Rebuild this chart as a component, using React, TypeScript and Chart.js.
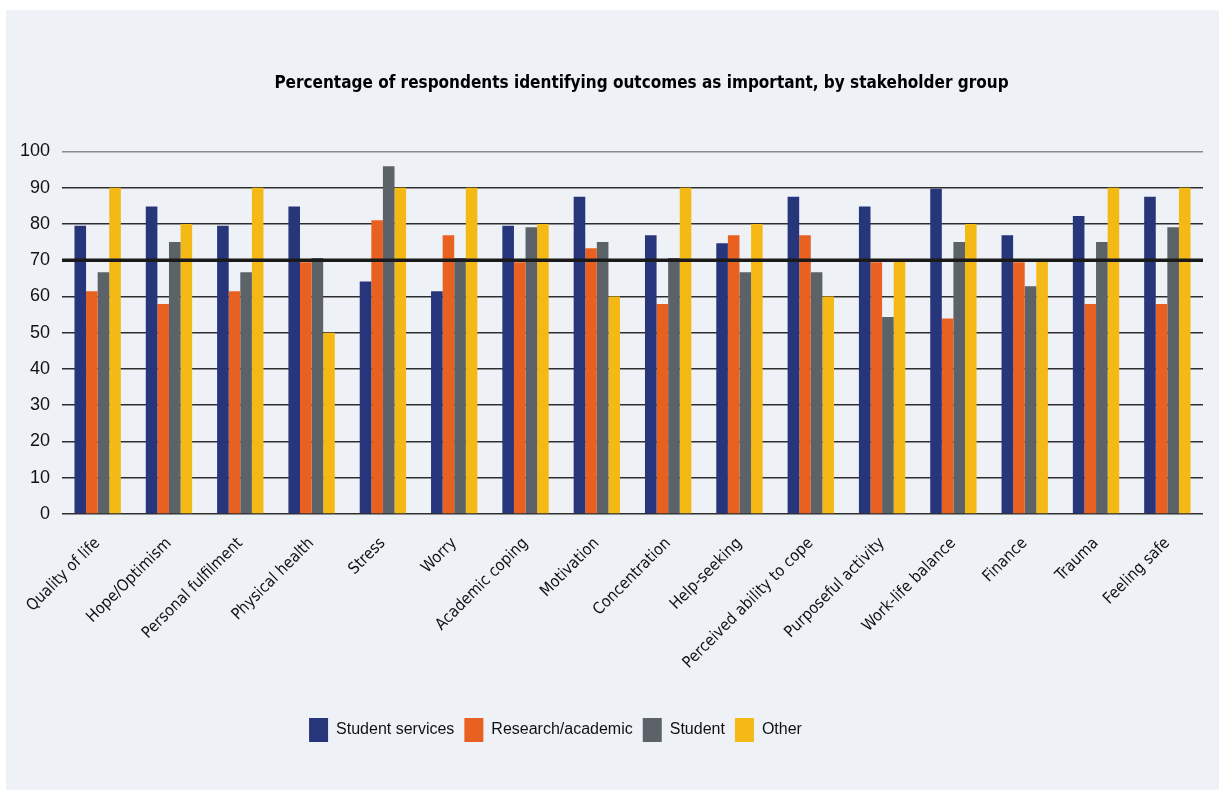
import React, { useEffect, useRef } from "react";
import { Chart, registerables } from "chart.js";

Chart.register(...registerables);

const TITLE = "Percentage of respondents identifying outcomes as important, by stakeholder group";

const categories = [
  "Quality of life",
  "Hope/Optimism",
  "Personal fulfilment",
  "Physical health",
  "Stress",
  "Worry",
  "Academic coping",
  "Motivation",
  "Concentration",
  "Help-seeking",
  "Perceived ability to cope",
  "Purposeful activity",
  "Work-life balance",
  "Finance",
  "Trauma",
  "Feeling safe",
];

const studentServices = [79.5, 84.8, 79.5, 84.8, 64.1, 61.4, 79.5, 87.5, 76.9, 74.7, 87.5, 84.8, 89.7, 76.9, 82.2, 87.5];
const researchAcademic = [61.4, 57.9, 61.4, 69.4, 81.0, 76.9, 69.4, 73.3, 57.9, 76.9, 76.9, 69.4, 53.9, 69.4, 57.9, 57.9];
const student = [66.7, 75.0, 66.7, 70.6, 95.9, 70.6, 79.1, 75.0, 70.6, 66.7, 66.7, 54.3, 75.0, 62.8, 75.0, 79.1];
const other = [90, 80, 90, 50, 90, 90, 80, 60, 90, 80, 60, 70, 80, 70, 90, 90];

const seriesNames = ["Student services", "Research/academic", "Student", "Other"];
const seriesColors = ["#27357b", "#e96121", "#5b6268", "#f4b914"];

const yTicks = [0, 10, 20, 30, 40, 50, 60, 70, 80, 90, 100];
const THRESHOLD = 70;

const NARROW = "'Liberation Sans Narrow', 'DejaVu Sans Condensed', 'Liberation Sans', sans-serif";
const REGULAR = "'Liberation Sans', Arial, sans-serif";

const thresholdPlugin = {
  id: "thresholdLine",
  afterDatasetsDraw(chart: any) {
    const { ctx, chartArea, scales } = chart;
    const y = scales.y.getPixelForValue(THRESHOLD);
    ctx.save();
    ctx.strokeStyle = "#1a1a1a";
    ctx.lineWidth = 3.5;
    ctx.beginPath();
    ctx.moveTo(chartArea.left, y);
    ctx.lineTo(chartArea.right, y);
    ctx.stroke();
    ctx.restore();
  },
};

// shift title and legend horizontally to match the reference placement
const offsetPlugin = {
  id: "boxOffsets",
  afterLayout(chart: any) {
    const t = chart.titleBlock;
    if (t) {
      t.left += 37;
      t.right += 37;
    }
    const l = chart.legend;
    if (l) {
      l.left -= 49;
      l.right -= 49;
    }
  },
};

export default function App() {
  const ref = useRef<HTMLCanvasElement | null>(null);

  useEffect(() => {
    if (!ref.current) return;
    const datasets = [studentServices, researchAcademic, student, other].map((d, i) => ({
      label: seriesNames[i],
      data: d,
      backgroundColor: seriesColors[i],
      borderWidth: 0,
      categoryPercentage: 0.65,
      barPercentage: 1.0,
    }));
    const chart = new Chart(ref.current, {
      type: "bar",
      data: { labels: categories, datasets },
      plugins: [thresholdPlugin, offsetPlugin],
      options: {
        animation: false,
        responsive: false,
        maintainAspectRatio: false,
        layout: { padding: { left: 0, right: 16, top: 0, bottom: 38 } },
        plugins: {
          tooltip: { enabled: false },
          title: {
            display: true,
            text: TITLE,
            color: "#000",
            font: { family: NARROW, size: 17, weight: "bold" },
            padding: { top: 63, bottom: 58 },
          },
          legend: {
            position: "bottom",
            labels: {
              color: "#111",
              font: { family: REGULAR, size: 16 },
              boxWidth: 19,
              boxHeight: 24,
              padding: 10,
            },
          },
        },
        scales: {
          x: {
            grid: { display: false, drawTicks: false },
            border: { display: false },
            ticks: {
              color: "#111",
              font: { family: NARROW, size: 16 },
              minRotation: 45,
              maxRotation: 45,
              autoSkip: false,
              padding: 20,
            },
            afterFit(scale: any) {
              scale.height = 194;
            },
          },
          y: {
            min: 0,
            max: 100,
            afterBuildTicks(scale: any) {
              scale.ticks = yTicks.map((v) => ({ value: v }));
            },
            grid: {
              drawTicks: false,
              color: (c: any) => (c.tick && c.tick.value === 100 ? "#8a8a8a" : "#2e2e2e"),
              lineWidth: 1.5,
            },
            border: { display: false },
            ticks: {
              color: "#111",
              font: { family: REGULAR, size: 18 },
              padding: 12,
            },
            afterFit(scale: any) {
              scale.width = 56;
            },
          },
        },
      },
    });
    return () => chart.destroy();
  }, []);

  return (
    <div style={{ position: "fixed", left: 0, top: 0, width: 1226, height: 799, background: "#ffffff" }}>
      <div style={{ position: "absolute", left: 6, top: 10, width: 1213, height: 780, background: "#eef2f6" }}>
        <canvas ref={ref} width={1213} height={780} style={{ display: "block" }} />
      </div>
    </div>
  );
}
